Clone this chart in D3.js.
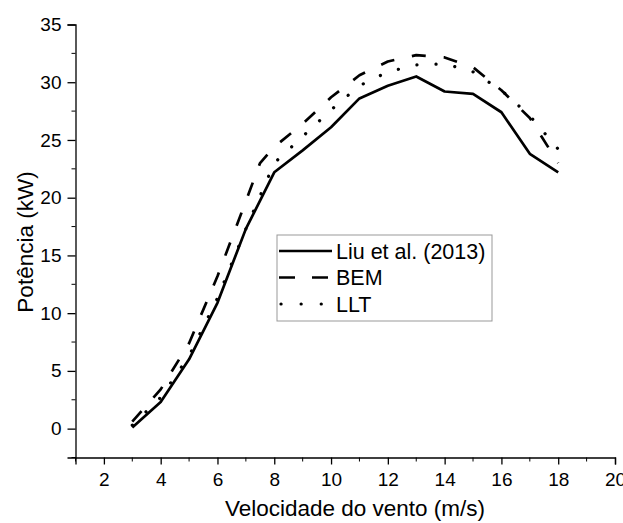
<!DOCTYPE html>
<html>
<head>
<meta charset="utf-8">
<script src="https://cdn.jsdelivr.net/npm/d3@7"></script>
<style>
  body { margin: 0; background: #fff; }
  text { font-family: "Liberation Sans", Arial, sans-serif; fill: #000; }
</style>
</head>
<body>
<div id="chart"></div>
<script>
// wind speed (m/s) and power (kW)
var speed = [3, 4, 5, 6, 7, 8, 9, 10, 11, 12, 13, 14, 15, 16, 17, 18];
var liu = [0.1, 2.3, 6.0, 10.9, 17.3, 22.2, 24.1, 26.1, 28.6, 29.7, 30.5, 29.2, 29.0, 27.4, 23.8, 22.2];
var bemSpeed = [3, 4, 5, 6, 7, 7.5, 8, 9, 10, 11, 12, 13, 14, 15, 16, 17, 18];
var bem = [0.6, 3.4, 7.4, 13.2, 19.7, 23.0, 24.4, 26.4, 28.7, 30.6, 31.8, 32.35, 32.15, 31.3, 29.3, 26.9, 23.0];
var llt = [0.3, 2.7, 6.3, 11.3, 17.3, 23.0, 25.3, 27.6, 29.7, 30.9, 31.5, 31.6, 30.9, 29.3, 27.1, 24.2];

var xMajor = [2, 4, 6, 8, 10, 12, 14, 16, 18, 20];
var xMinor = [1, 3, 5, 7, 9, 11, 13, 15, 17, 19];
var yMajor = [0, 5, 10, 15, 20, 25, 30, 35];
var yMinor = [-2.5, 2.5, 7.5, 12.5, 17.5, 22.5, 27.5, 32.5];

var labels = ["Liu et al. (2013)", "BEM", "LLT"];

var W = 623, H = 523;
var svg = d3.select("#chart").append("svg")
  .attr("width", W)
  .attr("height", H);

var x = d3.scaleLinear().domain([1, 20]).range([75.5, 615]);
var y = d3.scaleLinear().domain([-2.5, 35]).range([457.5, 24.5]);

// axes
var xAxis = svg.append("g")
  .attr("transform", "translate(0," + y(-2.5) + ")")
  .call(d3.axisBottom(x).tickValues(xMajor).tickSize(7).tickPadding(8));
xAxis.append("g").selectAll("line").data(xMinor).enter().append("line")
  .attr("x1", function(d) { return x(d); })
  .attr("x2", function(d) { return x(d); })
  .attr("y1", 0).attr("y2", 4)
  .attr("stroke", "#000");

var yAxis = svg.append("g")
  .attr("transform", "translate(" + x(1) + ",0)")
  .call(d3.axisLeft(y).tickValues(yMajor).tickSize(8).tickPadding(6));
yAxis.append("g").selectAll("line").data(yMinor).enter().append("line")
  .attr("y1", function(d) { return y(d); })
  .attr("y2", function(d) { return y(d); })
  .attr("x1", 0).attr("x2", -4)
  .attr("stroke", "#000");

svg.selectAll(".domain").attr("stroke", "#000").attr("stroke-width", 1.3);
svg.selectAll(".tick line").attr("stroke", "#000").attr("stroke-width", 1.3);
svg.selectAll(".tick text")
  .style("font-family", "'Liberation Sans', Arial, sans-serif")
  .style("font-size", "19px")
  .attr("fill", "#000");

// axis titles
svg.append("text")
  .attr("x", 355)
  .attr("y", 516)
  .attr("text-anchor", "middle")
  .style("font-size", "22.5px")
  .text("Velocidade do vento (m/s)");

svg.append("text")
  .attr("transform", "translate(33,242) rotate(-90)")
  .attr("text-anchor", "middle")
  .style("font-size", "22.5px")
  .text("Potência (kW)");

// lines
var line = d3.line()
  .x(function(d) { return x(d[0]); })
  .y(function(d) { return y(d[1]); });

var styles = [
  { dash: null, width: 2.7, cap: "butt" },
  { dash: "14,18", width: 2.7, cap: "butt" },
  { dash: "0.1,19", width: 3.2, cap: "round" }
];

var series = [
  d3.zip(speed, liu),
  d3.zip(bemSpeed, bem),
  d3.zip(speed, llt)
];

series.forEach(function(s, i) {
  svg.append("path")
    .datum(s)
    .attr("d", line)
    .attr("fill", "none")
    .attr("stroke", "#000")
    .attr("stroke-width", styles[i].width)
    .attr("stroke-linecap", styles[i].cap)
    .attr("stroke-linejoin", "round")
    .attr("stroke-dasharray", styles[i].dash);
});

// legend
var legend = svg.append("g").attr("transform", "translate(277,235)");
legend.append("rect")
  .attr("width", 215)
  .attr("height", 86)
  .attr("fill", "#fff")
  .attr("stroke", "#999")
  .attr("stroke-width", 1);

labels.forEach(function(lab, i) {
  var ly = 16 + i * 26.5;
  legend.append("line")
    .attr("x1", 2).attr("x2", 55)
    .attr("y1", ly).attr("y2", ly)
    .attr("stroke", "#000")
    .attr("stroke-width", styles[i].width)
    .attr("stroke-linecap", styles[i].cap)
    .attr("stroke-dasharray", i === 1 ? "16,17" : (i === 2 ? "0.1,20" : null))
    .attr("stroke-dashoffset", i === 2 ? -2 : 0);
  legend.append("text")
    .attr("x", 59)
    .attr("y", ly + 7.5)
    .style("font-size", "21.5px")
    .text(lab);
});
</script>
</body>
</html>
